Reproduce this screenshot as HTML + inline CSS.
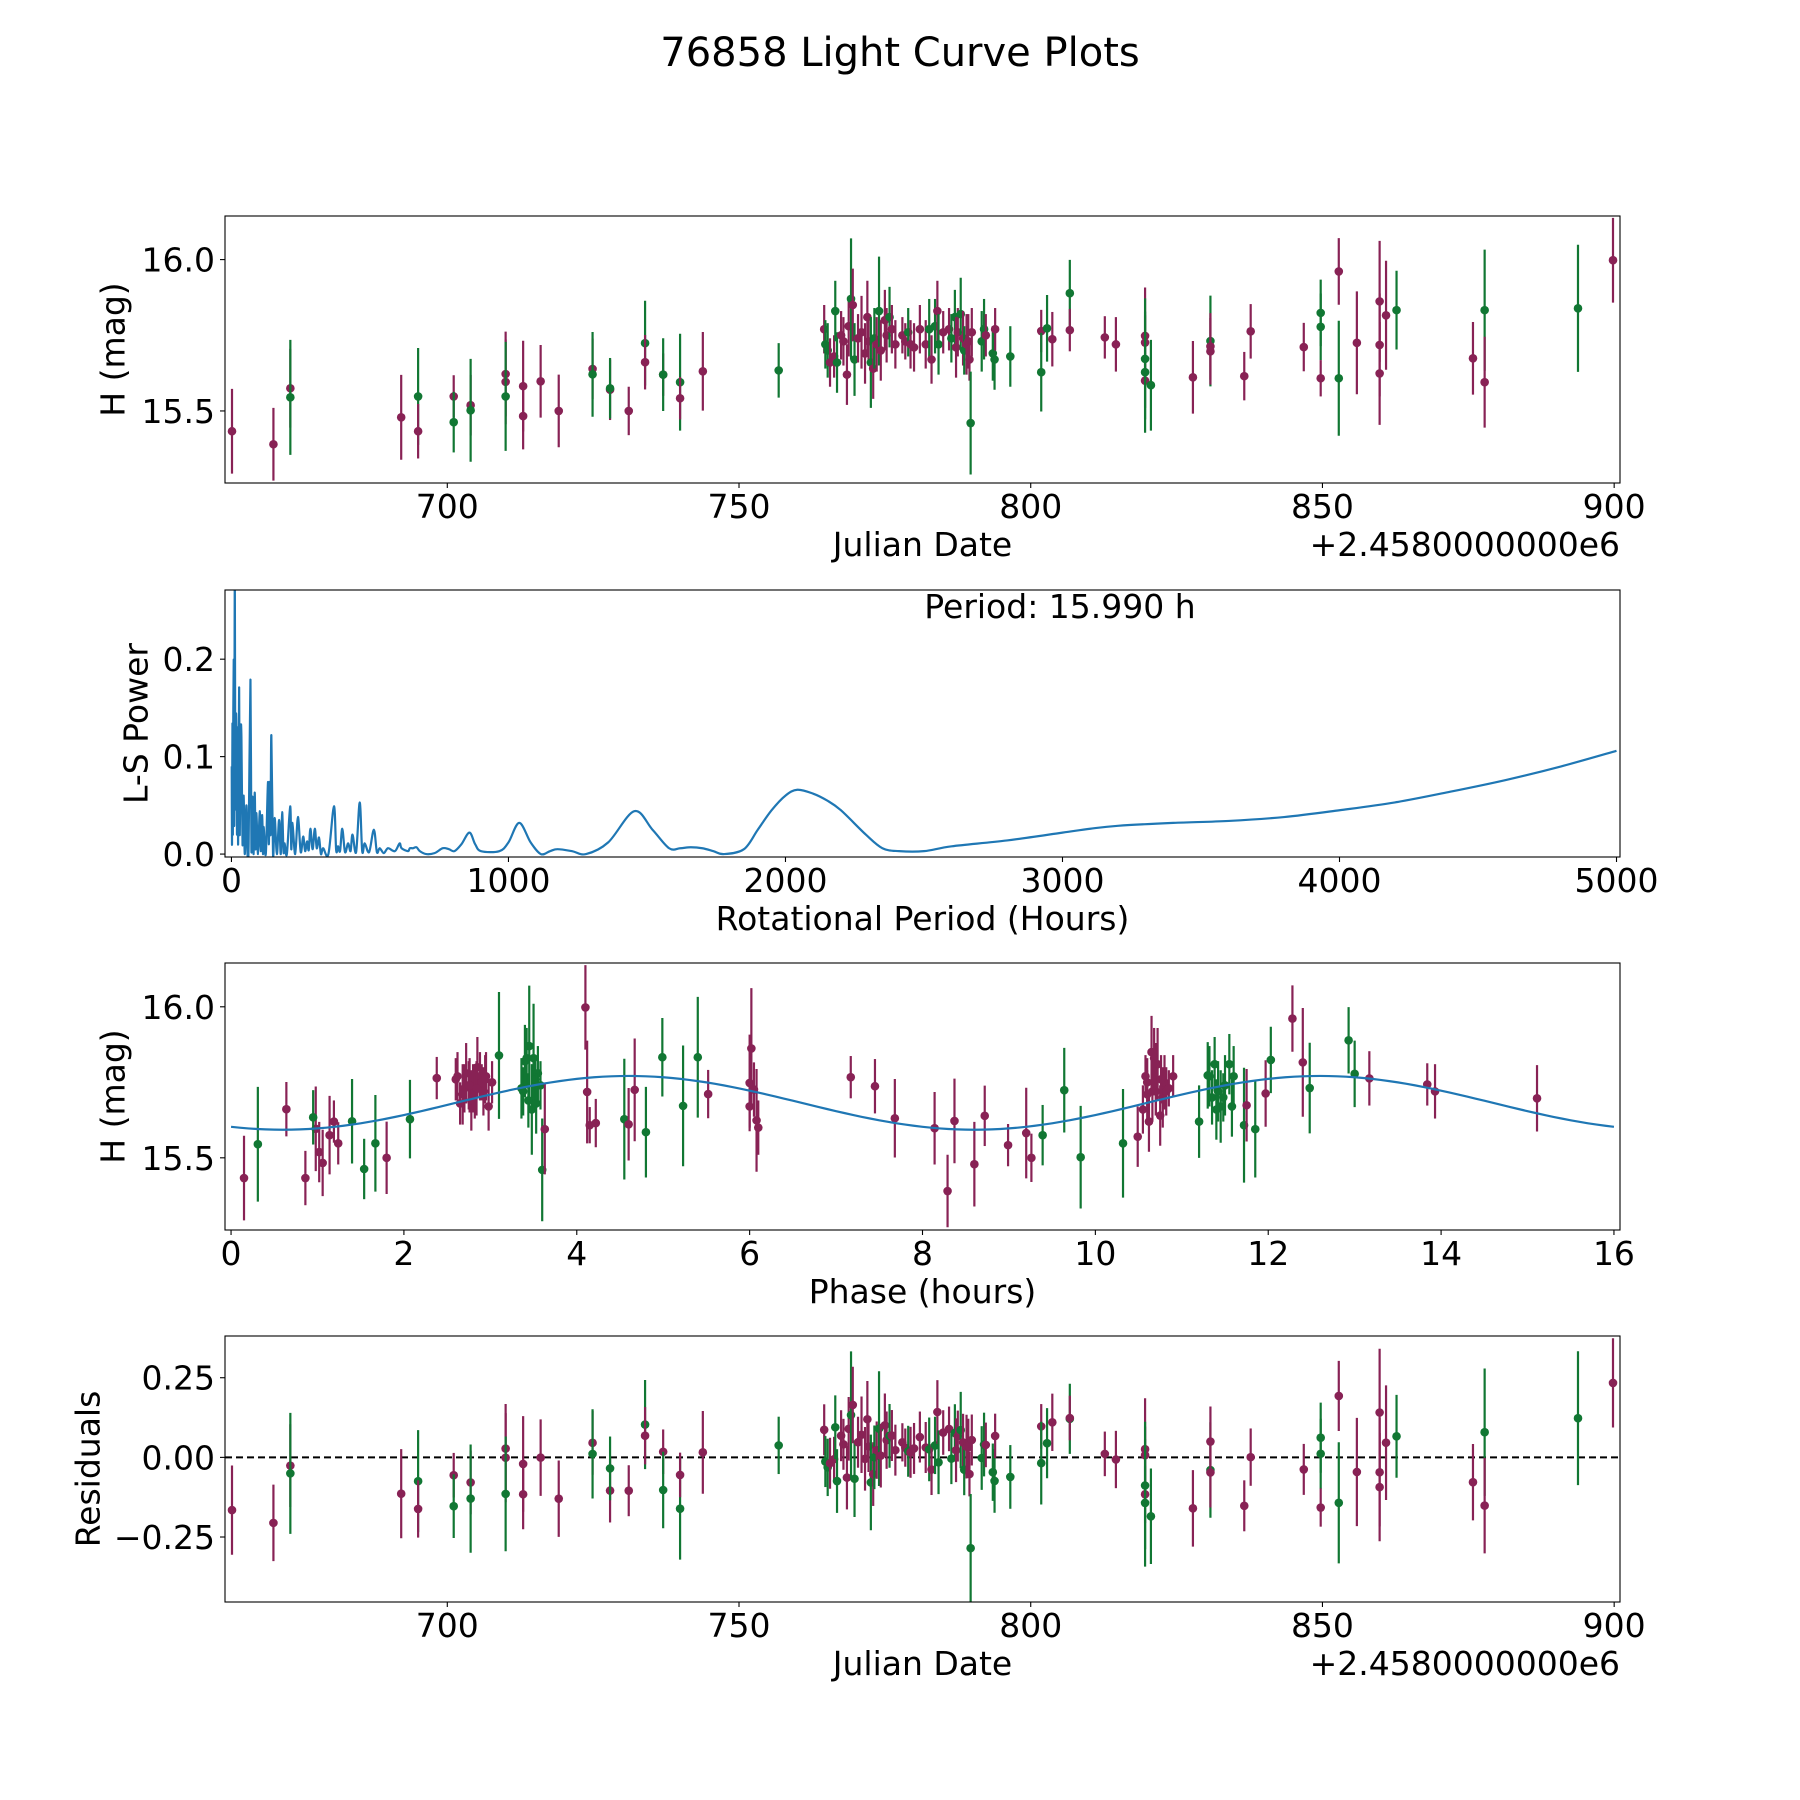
<!DOCTYPE html>
<html><head><meta charset="utf-8">
<style>
html,body{margin:0;padding:0;background:#fff;}
svg{display:block;font-family:"DejaVu Sans","Liberation Sans",sans-serif;}
</style></head>
<body>
<svg id="fig" width="1800" height="1800" viewBox="0 0 1800 1800" xmlns="http://www.w3.org/2000/svg">
<rect x="0" y="0" width="1800" height="1800" fill="#fff"/>
<text x="900" y="66" font-size="40" text-anchor="middle">76858 Light Curve Plots</text>
</svg>
<script>
// ---- observation data: [julian date offset, H mag, error, filter, phase (h)] ----
const obsDates = [663.1,670.2,673.1,673.1,692.1,695.0,695.0,701.1,701.1,704.0,704.0,710.0,710.0,710.0,713.0,713.0,716.0,719.1,724.9,724.9,727.9,727.9,731.1,733.9,733.9,737.0,737.0,739.9,739.9,743.8,756.8,
764.6,764.8,765.2,765.6,766.3,766.5,766.8,767.5,767.9,768.5,768.8,769.2,769.5,769.8,770.4,771,771.6,772,772.2,772.6,773,773.2,773.6,774,774.3,775,775.3,775.8,776.2,776.8,778,778.5,779,779.4,780,781,782,782.6,783,783.6,784,784.2,785,786,786.4,787,787.2,787.5,788,788.4,788.6,789,789.3,789.5,789.7,789.9,791.6,792,792.3,793.5,793.8,793.9,796.5,
801.8,801.8,802.8,803.7,806.7,806.7,812.7,814.6,819.6,819.6,819.6,819.6,819.6,820.6,827.8,830.8,830.8,830.8,836.6,837.7,846.8,849.7,849.7,849.7,852.8,852.8,855.9,859.8,859.8,859.8,860.9,862.7,875.8,877.8,877.8,893.8,899.8];
const obsMags = [15.433,15.39,15.575,15.545,15.479,15.548,15.433,15.548,15.463,15.519,15.502,15.622,15.596,15.548,15.582,15.483,15.598,15.5,15.639,15.621,15.57,15.575,15.5,15.724,15.661,15.62,15.62,15.595,15.542,15.631,15.634,
15.77,15.72,15.70,15.66,15.68,15.83,15.66,15.75,15.73,15.62,15.78,15.87,15.85,15.67,15.74,15.76,15.69,15.81,15.73,15.66,15.64,15.74,15.72,15.83,15.70,15.80,15.75,15.81,15.77,15.72,15.75,15.73,15.76,15.72,15.71,15.77,15.72,15.77,15.67,15.78,15.83,15.72,15.76,15.77,15.74,15.81,15.71,15.76,15.82,15.74,15.70,15.72,15.73,15.67,15.46,15.76,15.73,15.77,15.75,15.69,15.67,15.77,15.68,
15.764,15.628,15.773,15.737,15.889,15.767,15.743,15.72,15.748,15.726,15.6,15.672,15.628,15.585,15.611,15.731,15.713,15.697,15.615,15.763,15.711,15.824,15.778,15.608,15.961,15.608,15.725,15.862,15.718,15.624,15.816,15.833,15.674,15.833,15.595,15.839,15.998];
const obsErrs = [.14,.12,.13,.19,.14,.16,.09,.07,.1,.1,.17,.14,.14,.18,.15,.11,.12,.12,.1,.14,.1,.1,.08,.14,.09,.07,.12,.16,.07,.13,.09,
.08,.08,.09,.08,.07,.1,.1,.08,.08,.1,.1,.2,.12,.12,.08,.12,.1,.12,.08,.15,.1,.1,.09,.18,.1,.1,.09,.1,.08,.08,.06,.06,.08,.08,.08,.08,.08,.1,.08,.09,.1,.1,.07,.07,.08,.09,.1,.08,.12,.09,.08,.1,.09,.07,.17,.08,.1,.1,.07,.09,.1,.07,.1,
.07,.13,.11,.09,.11,.07,.07,.09,.16,.09,.09,.2,.2,.15,.12,.15,.11,.11,.08,.09,.08,.11,.11,.06,.11,.19,.17,.2,.17,.17,.18,.13,.12,.2,.15,.21,.14];
const obsFilter = ['p','p','p','g','p','g','p','p','g','p','g','p','p','g','p','p','p','p','p','g','p','g','p','g','p','p','g','g','p','p','g',
'p','g','g','p','p','g','g','p','p','p','p','g','p','g','p','p','p','p','p','g','p','g','p','g','p','p','p','g','p','p','p','p','g','p','p','p','p','g','p','g','p','g','p','p','g','g','p','p','g','p','g','p','p','p','g','p','g','g','p','g','g','p','g',
'p','g','g','p','g','p','p','p','p','p','p','g','g','g','p','g','p','p','p','p','p','g','g','p','p','g','p','p','p','p','p','g','p','g','p','g','p'];
const obsPhase = [0.15,8.29,1.14,0.31,8.6,1.67,0.86,1.24,1.54,1.02,9.83,8.37,0.98,10.32,9.2,1.06,8.14,1.8,8.72,1.4,10.49,9.39,9.26,9.64,0.64,1.19,11.2,11.85,8.99,7.68,0.95,
2.62,3.38,11.35,10.55,2.65,3.42,11.4,10.6,2.7,10.62,2.72,3.45,10.65,11.45,2.75,10.7,2.78,10.72,2.8,3.48,10.75,11.5,2.82,3.5,10.78,2.85,10.8,11.55,2.88,10.82,2.9,10.85,3.52,2.92,10.6,2.95,10.7,11.6,2.98,3.55,10.68,11.42,2.6,10.58,3.58,11.38,2.68,10.76,3.4,2.76,11.48,10.66,2.84,6.0,3.6,2.94,3.36,11.32,3.02,3.44,11.58,10.9,3.53,
2.38,2.07,11.3,7.45,12.93,7.17,13.84,13.93,6.0,6.05,6.1,5.23,4.55,4.8,4.6,12.48,11.97,15.11,4.22,13.17,5.52,12.03,13.0,4.15,12.28,11.72,4.67,6.02,4.12,6.08,12.4,4.99,11.75,5.4,3.63,3.1,4.1];

// ---- periodogram data ----
const lsPeriod = [1,2,3.6,5,6,8.4,10,12,14,16,18,20,22,24,27.7,30,33,36,40,44,48,54,58,62,68.6,72,75.8,80,84,87,90,96,102,106,111,114,116,124,132,135,138,141,144,150,156,164,172,178,183,188,192,200,212,216,220,230,240,250,259,266,273,279,285,293,301,308,316,323,331,350,370,378,385,392,400,410,421,430,437,450,463,472,481,497,514,525,535,550,565,590,607,614,637,644,655,668,680,703,733,763,785,805,830,859,880,901,967,1000,1039,1080,1117,1150,1177,1230,1280,1360,1454,1520,1580,1620,1658,1700,1740,1778,1850,1900,1950,2000,2043,2100,2150,2200,2290,2350,2410,2500,2600,2800,3000,3100,3200,3400,3600,3800,4000,4200,4400,4600,4800,5000];
const lsPower = [0.09,0.01,0.134,0.02,0.11,0.198,0.03,0.3,0.05,0.14,0.119,0.02,0.13,0.01,0.171,0.02,0.12,0.12,0.01,0.06,0.0,0.05,0.0,0.01,0.179,0.005,0.059,0.0,0.063,0.005,0.042,0.0,0.044,0.003,0.04,0.0,0.028,0.0,0.074,0.01,0.074,0.02,0.122,0.0,0.037,0.0,0.035,0.0,0.043,0.002,0.011,0.0,0.049,0.005,0.032,0.0,0.038,0.002,0.018,0.003,0.013,0.004,0.026,0.005,0.026,0.006,0.017,0.0,0.006,0.0,0.049,0.004,0.008,0.003,0.026,0.002,0.011,0.003,0.02,0.002,0.053,0.003,0.011,0.002,0.025,0.002,0.006,0.001,0.006,0.003,0.011,0.006,0.003,0.006,0.006,0.007,0.003,0.0,0.001,0.006,0.005,0.003,0.01,0.022,0.01,0.003,0.003,0.012,0.032,0.012,0.0,0.003,0.005,0.003,0.0,0.012,0.044,0.025,0.006,0.006,0.007,0.006,0.003,0.0,0.005,0.025,0.045,0.06,0.066,0.062,0.055,0.045,0.02,0.006,0.003,0.003,0.008,0.014,0.022,0.026,0.029,0.032,0.034,0.038,0.045,0.053,0.064,0.076,0.09,0.106];
const bestPeriodLabel = ["Period: 15.990 h"];

// ---- fitted model (phase curve) ----
const modelParams = [15.682, 0.089, 0.6, 8.0]; // mean, amplitude, phase of minimum, half-period
const phaseGrid = [0,16];

// ---- tick labels ----
const dateTicks = [700,750,800,850,900];
const magTicks = [15.5,16.0];
const lsXTicks = [0,1000,2000,3000,4000,5000];
const lsYTicks = [0.0,0.1,0.2];
const phaseTicks = [0,2,4,6,8,10,12,14,16];
const residTicks = [-0.25,0.00,0.25];

const NS = "http://www.w3.org/2000/svg";
const svg = document.getElementById('fig');
const COL = {p:'#882255', g:'#117733'};
const FS = 33;
function mk(tag, attrs, parent){const e=document.createElementNS(NS,tag);for(const k in attrs)e.setAttribute(k,attrs[k]);(parent||svg).appendChild(e);return e;}
function scale(d0,d1,r0,r1){return v=>r0+(v-d0)*(r1-r0)/(d1-d0);}
function model(ph){return modelParams[0]-modelParams[1]*Math.cos(2*Math.PI*(ph-modelParams[2])/modelParams[3]);}

const L=225, R=1620;
function axes(name, top, bot, xlim, ylim, xt, yt, xfmt, yfmt, xlabel, ylabel, ylabX, offset){
  const g=mk('g',{});
  
  
  const sx=scale(xlim[0],xlim[1],L,R), sy=scale(ylim[0],ylim[1],bot,top);
  const clipId=name+'-clip';
  const cp=mk('clipPath',{id:clipId},g); mk('rect',{x:L,y:top,width:R-L,height:bot-top},cp);
  const plot=mk('g',{'clip-path':'url(#'+clipId+')'},g);
  
  
  xt.forEach(v=>{const x=sx(v);
    const t=mk('line',{x1:x,x2:x,y1:bot,y2:bot+5,stroke:'#000','stroke-width':1.1},g);
     
    const tx=mk('text',{x:x,y:bot+35,'font-size':FS,'text-anchor':'middle'},g); tx.textContent=xfmt(v);
     });
  yt.forEach(v=>{const y=sy(v);
    const t=mk('line',{x1:L-5,x2:L,y1:y,y2:y,stroke:'#000','stroke-width':1.1},g);
     
    const tx=mk('text',{x:L-10,y:y+12,'font-size':FS,'text-anchor':'end'},g); tx.textContent=yfmt(v);
     });
  const xl=mk('text',{x:(L+R)/2,y:bot+73,'font-size':FS,'text-anchor':'middle'},g); xl.textContent=xlabel;
   
  const yc=(top+bot)/2;
  const yl=mk('text',{x:ylabX,y:yc,'font-size':FS,'text-anchor':'middle','dominant-baseline':'central',transform:`rotate(-90 ${ylabX} ${yc})`},g); yl.textContent=ylabel;
   
  if(offset){const o=mk('text',{x:R,y:bot+73,'font-size':FS,'text-anchor':'end'},g); o.textContent=offset;
     }
  const fr=mk('rect',{x:L,y:top,width:R-L,height:bot-top,fill:'none',stroke:'#000','stroke-width':1.1},g);
   
  return {g:plot,sx,sy,outer:g};
}
function errPoint(ax,x,y,e,c){
  const col=COL[c];
  const ln=mk('line',{x1:ax.sx(x),x2:ax.sx(x),y1:ax.sy(y-e),y2:ax.sy(y+e),stroke:col,'stroke-width':2.2},ax.g);
   
  const d=mk('circle',{cx:ax.sx(x),cy:ax.sy(y),r:4.3,fill:col},ax.g);
   
}
const f1=v=>v.toFixed(1), f0=v=>String(v), f2=v=>(v<0?'\u2212':'')+Math.abs(v).toFixed(2);

// Panel 1: light curve
const a1=axes('light-curve-axes',216,483,[661.9,901.0],[15.262,16.144],dateTicks,magTicks,f0,f1,'Julian Date','H (mag)',113,'+2.4580000000e6');
obsDates.forEach((d,i)=>errPoint(a1,d,obsMags[i],obsErrs[i],obsFilter[i]));

// Panel 2: periodogram (smoothed Catmull-Rom path through the sampled values)
const a2=axes('periodogram-axes',590,857,[-23.3,5012.6],[-0.003,0.271],lsXTicks,lsYTicks,f0,f1,'Rotational Period (Hours)','L-S Power',136,null);
{const P=lsPeriod.map((p,i)=>[a2.sx(p),a2.sy(lsPower[i])]);
 let dstr='M'+P[0][0].toFixed(2)+' '+P[0][1].toFixed(2);
 for(let i=0;i<P.length-1;i++){
   const p0=P[Math.max(0,i-1)],p1=P[i],p2=P[i+1],p3=P[Math.min(P.length-1,i+2)];
   const c1=[p1[0]+(p2[0]-p0[0])/6,p1[1]+(p2[1]-p0[1])/6];
   const c2=[p2[0]-(p3[0]-p1[0])/6,p2[1]-(p3[1]-p1[1])/6];
   dstr+='C'+c1[0].toFixed(2)+' '+c1[1].toFixed(2)+' '+c2[0].toFixed(2)+' '+c2[1].toFixed(2)+' '+p2[0].toFixed(2)+' '+p2[1].toFixed(2);
 }
 const pl=mk('path',{d:dstr,fill:'none',stroke:'#1f77b4','stroke-width':2.2,'stroke-linejoin':'round'},a2.g);
  
 const pt=mk('text',{x:1060,y:618,'font-size':FS,'text-anchor':'middle'},a2.outer); pt.textContent=bestPeriodLabel[0];
  }

// Panel 3: phased light curve
const a3=axes('phase-curve-axes',963,1230,[-0.07,16.07],[15.261,16.145],phaseTicks,magTicks,f0,f1,'Phase (hours)','H (mag)',113,null);
obsPhase.forEach((ph,i)=>errPoint(a3,ph,obsMags[i],obsErrs[i],obsFilter[i]));
{const pts=[];for(let k=0;k<=160;k++){const ph=phaseGrid[0]+k*(phaseGrid[1]-phaseGrid[0])/160;pts.push(a3.sx(ph).toFixed(2)+','+a3.sy(model(ph)).toFixed(2));}
 const ml=mk('polyline',{points:pts.join(' '),fill:'none',stroke:'#1f77b4','stroke-width':2.2},a3.g);
  }

// Panel 4: residuals
const a4=axes('residuals-axes',1336,1602,[661.9,901.0],[-0.454,0.381],dateTicks,residTicks,f0,f2,'Julian Date','Residuals',88,'+2.4580000000e6');
{const zl=mk('line',{x1:L,x2:R,y1:a4.sy(0),y2:a4.sy(0),stroke:'#000','stroke-width':2,'stroke-dasharray':'7,4'},a4.g);
  }
obsDates.forEach((d,i)=>errPoint(a4,d,obsMags[i]-model(obsPhase[i]),obsErrs[i],obsFilter[i]));
</script>
</body></html>
